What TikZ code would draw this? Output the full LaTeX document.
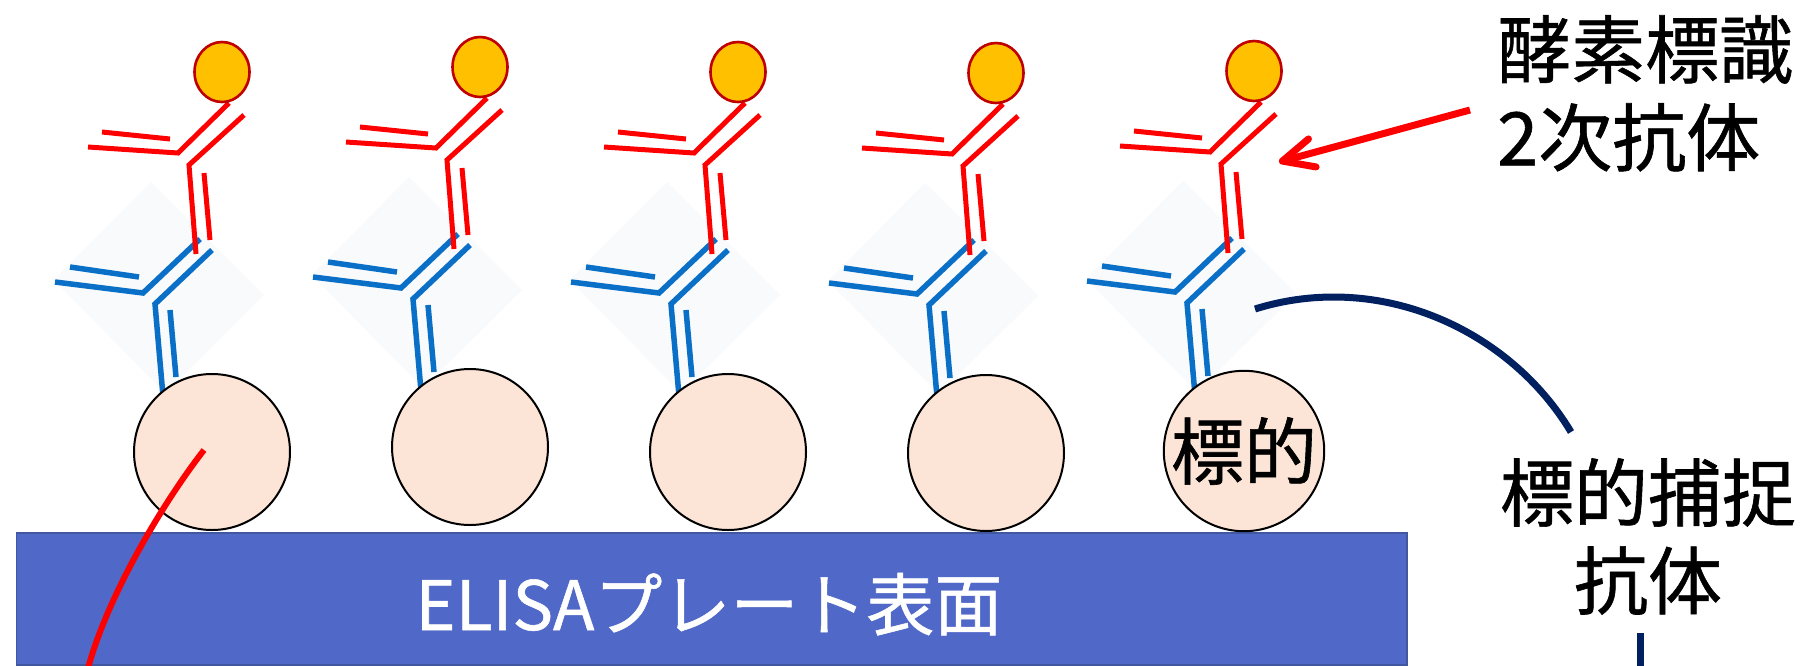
\documentclass[tikz,border=0pt]{standalone}
\usepackage{fontspec}
\newfontfamily\jpfont[FakeBold=0.8]{Noto Sans CJK JP}
\usetikzlibrary{arrows.meta,shapes.geometric}

\definecolor{plateblue}{HTML}{5068C8}
\definecolor{plateedge}{HTML}{41579F}
\definecolor{targetfill}{HTML}{FCE4D6}
\definecolor{enzfill}{HTML}{FFC000}
\definecolor{enzedge}{HTML}{C00000}
\definecolor{capblue}{HTML}{0A6FC6}
\definecolor{navy}{HTML}{002060}
\definecolor{haze}{HTML}{F9FAFC}

\begin{document}
\begin{tikzpicture}[x=1pt,y=-1pt,
  secab/.style={draw=red, line width=5pt, line cap=butt, line join=miter},
  capab/.style={draw=capblue, line width=5.5pt, line cap=butt, line join=miter},
  target/.style={circle, draw=black, line width=2pt, fill=targetfill,
    minimum size=156pt, inner sep=0pt, font=\jpfont\fontsize{73}{80}\selectfont},
  enzyme/.style={ellipse, draw=enzedge, line width=2.6pt, fill=enzfill,
    minimum width=55pt, minimum height=60pt, inner sep=0pt},
  plate/.style={draw=plateedge, line width=1.5pt, fill=plateblue,
    minimum width=1390.5pt, minimum height=132pt, inner sep=0pt},
  labeltext/.style={inner sep=0pt, font=\jpfont\fontsize{74}{88}\selectfont},
  pointer/.style={draw=red, line width=7pt, -{Straight Barb[length=31pt,width=29pt,round]}},
  redcurve/.style={draw=red, line width=6pt},
  navyline/.style={draw=navy, line width=7pt},
]
\useasboundingbox (0,0) rectangle (1803,665);
\fill[white] (0,0) rectangle (1803,665);

% plate
\node[plate, anchor=north west] (plate) at (15.5,532) {};
\node[text=white, inner sep=0pt, anchor=base, font=\jpfont\fontsize{68}{80}\selectfont]
  (platelabel) at (709,630) {ELISAプレート表面};

% five antibody sandwiches: capture antibody, target, labelled secondary antibody
\foreach \k/\dy in {1/0,2/-5,3/0,4/1,5/-1}{
  \begin{scope}[shift={({222+258*(\k-1)},{72+\dy})}]
    \fill[haze] (-168,208) -- (-71,110) -- (42,223) -- (-57,321) -- cycle;
    % capture antibody
    \draw[capab] (-167,210) -- (-79,221) -- (-22,167);
    \draw[capab] (-152,195) -- (-83,205);
    \draw[capab] (-10,178) -- (-67,232) -- (-59,324);
    \draw[capab] (-52,238) -- (-46,305);
    % secondary antibody
    \draw[secab] (-134,75) -- (-44,81) -- (7,31);
    \draw[secab] (-120,60) -- (-52,67);
    \draw[secab] (22,43) -- (-33,93) -- (-26,182);
    \draw[secab] (-18,101) -- (-12,168);
    % enzyme label
    \node[enzyme] (e\k) at (0,0) {};
    % target
    \node[target] (t\k) at (-10,380) {\ifnum\k=5 標的\fi};
  \end{scope}
}

% callouts
\node[labeltext, anchor=north west, align=left] (seclabel) at (1497,15) {酵素標識\\2次抗体};
\node[labeltext, anchor=north, align=center] (caplabel) at (1648,458) {標的捕捉\\抗体};

\coordinate (secfrom) at (1470,110);
\coordinate (secto) at (1279,162);
\draw[pointer] (secfrom) -- (secto);

\coordinate (capfrom) at (1255,309);
\coordinate (capto) at (1571,432);
\draw[navyline] (capfrom) .. controls (1380,270) and (1510,330) .. (capto);
\coordinate (capstub) at (1640,633);
\draw[navyline] (capstub) -- (1640,672);

\coordinate (plateptr) at (204,450);
\draw[redcurve] (plateptr) .. controls (165,500) and (107,595) .. (87,672);
\end{tikzpicture}
\end{document}
